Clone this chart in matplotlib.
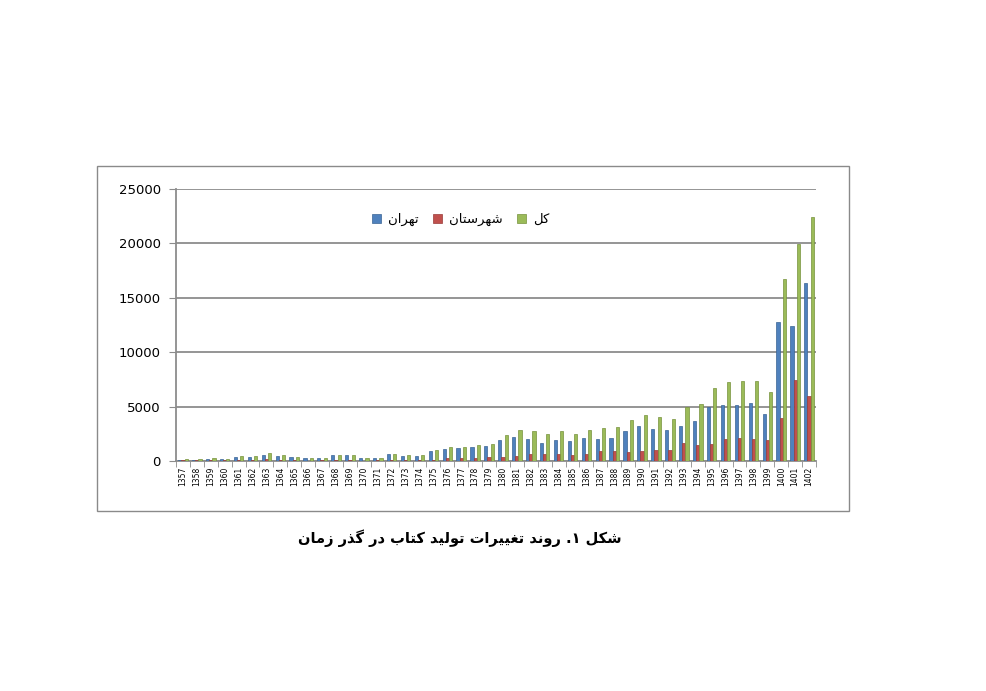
import matplotlib
matplotlib.use("Agg")
import matplotlib.pyplot as plt
from matplotlib.patches import Rectangle
import numpy as np

# categories (solar hijri years)
years = list(range(1357, 1403))

# series values
tehran = [100, 100, 200, 150, 360, 390, 575, 420, 330, 270, 270, 515, 545, 240, 270,
          600, 485, 450, 910, 1090, 1150, 1300, 1360, 1940, 2250, 1980, 1700, 1940,
          1880, 2100, 2040, 2100, 2780, 3210, 2900, 2840, 3210, 3670, 4970, 5190,
          5190, 5310, 4320, 12760, 12390, 16400]
shahrestan = [50, 50, 60, 60, 100, 110, 160, 120, 60, 40, 50, 80, 60, 40, 60,
              80, 60, 100, 100, 270, 240, 270, 360, 340, 490, 620, 650, 680,
              560, 620, 900, 900, 830, 960, 1050, 990, 1700, 1510, 1600, 1980,
              2070, 1980, 1910, 3920, 7440, 5960]
kol = [150, 150, 250, 200, 420, 450, 730, 515, 360, 270, 300, 545, 545, 240, 300,
       630, 515, 515, 970, 1270, 1300, 1450, 1600, 2350, 2810, 2720, 2440, 2750,
       2500, 2810, 3020, 3090, 3730, 4260, 4010, 3890, 4970, 5280, 6670, 7250,
       7310, 7380, 6300, 16770, 19910, 22440]

series_names = ["تهران", "شهرستان", "کل"]
caption = "شکل ۱. روند تغییرات تولید کتاب در گذر زمان"

# simple arabic/persian shaping: contextual forms + visual (rtl) order
FORMS = {
    "\u0627": ("\uFE8D", "\uFE8E", None, None),
    "\u0628": ("\uFE8F", "\uFE90", "\uFE91", "\uFE92"),
    "\u062A": ("\uFE95", "\uFE96", "\uFE97", "\uFE98"),
    "\u062F": ("\uFEA9", "\uFEAA", None, None),
    "\u0630": ("\uFEAB", "\uFEAC", None, None),
    "\u0631": ("\uFEAD", "\uFEAE", None, None),
    "\u0632": ("\uFEAF", "\uFEB0", None, None),
    "\u0633": ("\uFEB1", "\uFEB2", "\uFEB3", "\uFEB4"),
    "\u0634": ("\uFEB5", "\uFEB6", "\uFEB7", "\uFEB8"),
    "\u063A": ("\uFECD", "\uFECE", "\uFECF", "\uFED0"),
    "\u0644": ("\uFEDD", "\uFEDE", "\uFEDF", "\uFEE0"),
    "\u0645": ("\uFEE1", "\uFEE2", "\uFEE3", "\uFEE4"),
    "\u0646": ("\uFEE5", "\uFEE6", "\uFEE7", "\uFEE8"),
    "\u0647": ("\uFEE9", "\uFEEA", "\uFEEB", "\uFEEC"),
    "\u0648": ("\uFEED", "\uFEEE", None, None),
    "\u06A9": ("\uFB8E", "\uFB8F", "\uFB90", "\uFB91"),
    "\u06AF": ("\uFB92", "\uFB93", "\uFB94", "\uFB95"),
    "\u06CC": ("\uFBFC", "\uFBFD", "\uFBFE", "\uFBFF"),
}


def shape(text):
    out = []
    for i, ch in enumerate(text):
        if ch not in FORMS:
            out.append(ch)
            continue
        prev = text[i - 1] if i > 0 else ""
        nxt = text[i + 1] if i + 1 < len(text) else ""
        join_prev = prev in FORMS and FORMS[prev][2] is not None
        join_next = FORMS[ch][2] is not None and nxt in FORMS
        iso, fin, ini, med = FORMS[ch]
        if join_prev and join_next:
            out.append(med)
        elif join_prev:
            out.append(fin)
        elif join_next:
            out.append(ini)
        else:
            out.append(iso)
    return "".join(out)[::-1]


plt.rcParams["font.family"] = ["DejaVu Sans"]

fig = plt.figure(figsize=(9.86, 6.91), dpi=100)

# outer chart frame
fig.patches.append(Rectangle((97 / 986, 1 - 511 / 691), (849 - 97) / 986, (511 - 166) / 691,
                             transform=fig.transFigure, fill=False,
                             edgecolor="#8a8a8a", linewidth=1.0))

ax = fig.add_axes([176 / 986, 1 - 461 / 691, (816 - 176) / 986, (461 - 189) / 691])

x = np.arange(len(years))
w = 0.23
colors = ["#4F81BD", "#C0504D", "#9BBB59"]
edges = ["#3A6494", "#9A3B38", "#76923C"]
for k, (vals, c, e) in enumerate(zip([tehran, shahrestan, kol], colors, edges)):
    ax.bar(x + (k - 1) * w, vals, width=w, color=c, edgecolor=e, linewidth=0.5,
           label=shape(series_names[k]), zorder=3)

ax.set_xlim(-0.5, len(years) - 0.5)
ax.set_ylim(0, 25000)
ax.set_yticks(np.arange(0, 25001, 5000))
ax.yaxis.grid(True, color="#8c8c8c", linewidth=1.3, zorder=0)
ax.set_axisbelow(True)

for s in ["top", "right"]:
    ax.spines[s].set_visible(False)
for s in ["left", "bottom"]:
    ax.spines[s].set_color("#8c8c8c")
    ax.spines[s].set_linewidth(1.3)

ax.tick_params(axis="y", direction="out", length=5, color="#8c8c8c", labelsize=9.5, pad=6)
ax.set_xticks(x)
ax.set_xticklabels([str(y) for y in years], rotation=90, fontsize=5.5)
ax.set_xticks(np.arange(-0.5, len(years), 1), minor=True)
ax.tick_params(axis="x", which="major", length=0, pad=4)
ax.tick_params(axis="x", which="minor", length=4, color="#8c8c8c")

leg = ax.legend(loc="upper center", bbox_to_anchor=(0.445, 0.955), ncol=3, frameon=False,
                fontsize=9.5, handlelength=0.7, handleheight=0.7, columnspacing=1.1,
                handletextpad=0.5)

fig.text(460 / 986, 1 - 538 / 691, shape(caption), ha="center", va="center",
         fontsize=10.5, fontweight="bold")

fig.savefig("out.png", dpi=100)
